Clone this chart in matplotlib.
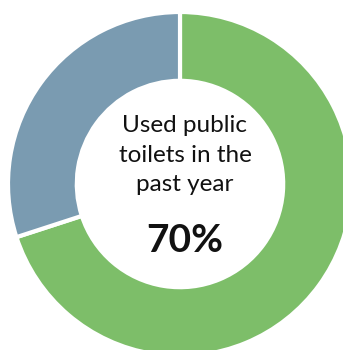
import matplotlib
matplotlib.use("Agg")
import matplotlib.pyplot as plt

# Share of respondents
labels = ["Used public toilets", "Did not use"]
values = [70, 30]
colors = ["#7DBE69", "#7A9BB1"]
center_title = "Used public\ntoilets in the\npast year"
center_value = "70%"

W, H = 343, 350
fig = plt.figure(figsize=(W / 100, H / 100), dpi=100)
ax = fig.add_axes([0, 0, 1, 1])

cx, cy, r = 180, H - 184, 172
ax.pie(values, colors=colors, startangle=90, counterclock=False,
       center=(cx, cy), radius=r, frame=True,
       wedgeprops=dict(width=r * 0.4, edgecolor="white", linewidth=3))
ax.set_xlim(0, W)
ax.set_ylim(0, H)
ax.set_aspect("equal")
ax.axis("off")

ax.text(185, H - 155, center_title, ha="center", va="center",
        fontsize=17.5, family="Lato", linespacing=1.52, color="#111111")
ax.text(185, H - 240, center_value, ha="center", va="center",
        fontsize=28, family="Lato", fontweight="bold", color="#111111")

fig.savefig("out.png", dpi=100)
